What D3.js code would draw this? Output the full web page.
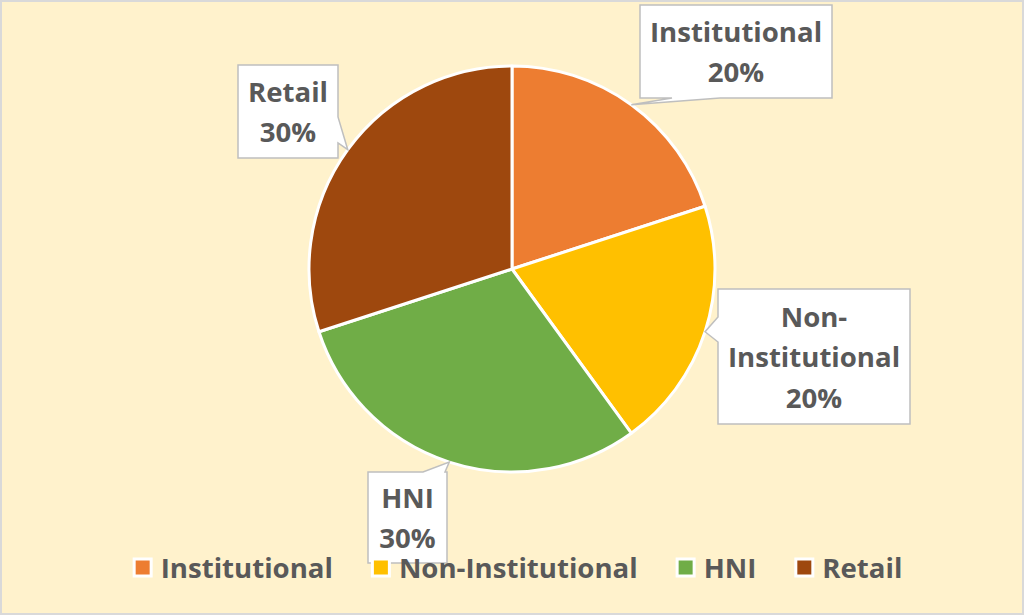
<!DOCTYPE html>
<html><head><meta charset="utf-8">
<script src="https://cdn.jsdelivr.net/npm/d3@7"></script>
<style>html,body{margin:0;padding:0;background:#fff;}svg{display:block;}</style>
</head><body>
<svg id="chart" width="1024" height="615"></svg>
<script>
// ---- data ----
const categories = ["Institutional", "Non-Institutional", "HNI", "Retail"];
const values = [20, 20, 30, 30];
const colors = ["#ED7D31", "#FFC000", "#70AD47", "#9E480E"];
// data label lines (category split for callouts)
const labelLines = [["Institutional"], ["Non-", "Institutional"], ["HNI"], ["Retail"]];

// ---- layout (callout boxes) ----
const calloutLayout = [
  {x0: 640, y0: 5,   x1: 832, y1: 98,  side: "bottom", a: 672, b: 720},
  {x0: 718, y0: 289, x1: 910, y1: 424, side: "left",   a: 317, b: 342},
  {x0: 368, y0: 472, x1: 447, y1: 563, side: "top",    a: 423, b: 445},
  {x0: 238, y0: 65,  x1: 338, y1: 158, side: "right",  a: 117, b: 143}
];

const W = 1024, H = 615;
const cx = 512, cy = 269, R = 203;
const font = "'Open Sans', sans-serif";
const textColor = "#595959";
const fs = 27.6;

const svg = d3.select("#chart");
svg.append("rect").attr("x", 1).attr("y", 1).attr("width", W - 2).attr("height", H - 2)
  .attr("fill", "#FFF2CC").attr("stroke", "#D9D9D9").attr("stroke-width", 2);

const total = d3.sum(values);
const pie = d3.pie().sort(null).value(d => d)(values);
const arc = d3.arc().innerRadius(0).outerRadius(R);
const edgeArc = d3.arc().innerRadius(R).outerRadius(R);

const g = svg.append("g").attr("transform", `translate(${cx},${cy})`);
g.selectAll("path.slice").data(pie).join("path")
  .attr("class", "slice")
  .attr("d", arc)
  .attr("fill", (d, i) => colors[i])
  .attr("stroke", "#fff").attr("stroke-width", 3).attr("stroke-linejoin", "round");

// callouts
function calloutPath(L, tip) {
  const {x0, y0, x1, y1, side, a, b} = L;
  const p = [];
  p.push([x0, y0]);
  if (side === "top") { p.push([a, y0], tip, [b, y0]); }
  p.push([x1, y0]);
  if (side === "right") { p.push([x1, a], tip, [x1, b]); }
  p.push([x1, y1]);
  if (side === "bottom") { p.push([b, y1], tip, [a, y1]); }
  p.push([x0, y1]);
  if (side === "left") { p.push([x0, b], tip, [x0, a]); }
  return "M" + p.map(q => q.join(",")).join("L") + "Z";
}

const fmt = v => Math.round(v / total * 100) + "%";
const lineH = 40.5;
pie.forEach((d, i) => {
  const L = calloutLayout[i];
  const c = edgeArc.centroid(d);
  const tip = [cx + c[0], cy + c[1]];
  svg.append("path").attr("d", calloutPath(L, tip))
    .attr("fill", "#fff").attr("stroke", "#BFBFBF").attr("stroke-width", 1.5);
  const lines = labelLines[i].concat([fmt(values[i])]);
  const mx = (L.x0 + L.x1) / 2, my = (L.y0 + L.y1) / 2;
  const firstBase = my - (lines.length - 1) * lineH / 2 + 10.5;
  const t = svg.append("text").attr("text-anchor", "middle")
    .attr("font-family", font).attr("font-weight", 700).attr("font-size", fs)
    .attr("fill", textColor);
  lines.forEach((s, k) => {
    t.append("tspan").attr("x", mx).attr("y", firstBase + k * lineH).text(s);
  });
});

// legend
const leg = svg.append("g");
let x = 0;
const sq = 17, gapTxt = 8, gapItem = 38;
categories.forEach((c, i) => {
  const it = leg.append("g");
  it.append("rect").attr("x", x + 1.5).attr("y", -sq / 2).attr("width", sq).attr("height", sq)
    .attr("fill", colors[i]).attr("stroke", "#fff").attr("stroke-width", 3);
  const tx = it.append("text").attr("x", x + sq + 3 + gapTxt).attr("y", 10)
    .attr("font-family", font).attr("font-weight", 700).attr("font-size", fs)
    .attr("fill", textColor).text(c);
  const w = tx.node().getComputedTextLength();
  x = x + sq + 3 + gapTxt + w + gapItem;
});
const legW = x - gapItem;
leg.attr("transform", `translate(${517.5 - legW / 2},567.5)`);
</script>
</body></html>
